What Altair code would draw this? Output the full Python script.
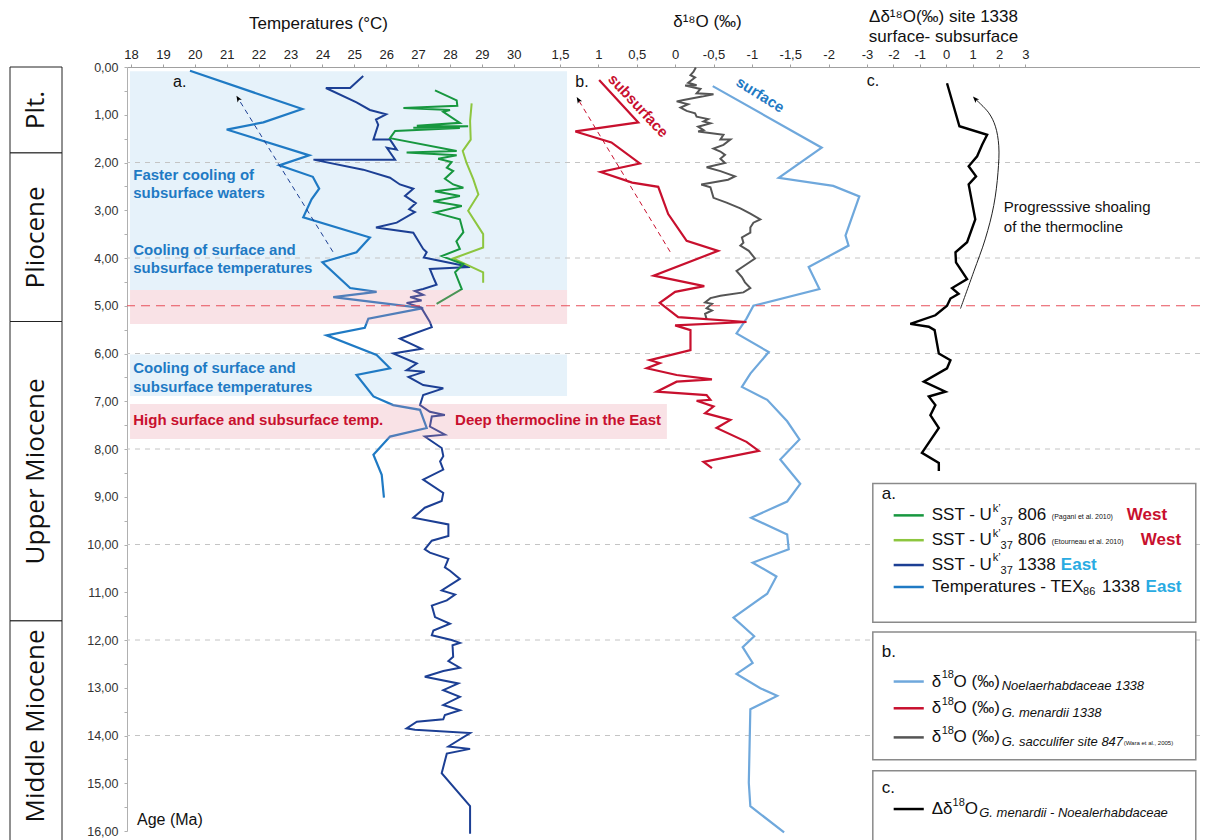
import altair as alt
import pandas as pd

# ---------------- data (age in Ma) ----------------
# Panel a : temperatures (degC)
tex86_1338 = [(0.08,19.85),(0.88,23.37),(1.16,22.15),(1.31,21.00),(1.85,23.59),(2.06,22.65),(2.30,23.70),
              (2.55,23.90),(2.77,23.66),(3.15,23.40),(3.57,25.49),(3.88,25.07),(4.09,24.00),(4.63,24.87),
              (4.71,25.70),(4.82,24.34),(5.05,27.16),(5.27,25.44),(5.46,25.33),(5.62,24.13),(6.03,25.70),
              (6.31,26.12),(6.45,25.07),(6.90,25.60),(7.08,26.22),(7.18,27.06),(7.56,27.27),(7.74,26.12),
              (8.12,25.60),(8.54,25.86),(9.02,25.93)]
uk37_1338 = [(0.19,25.28),(0.44,24.87),(0.44,24.11),(0.74,25.07),(0.90,25.49),(0.99,26.00),(1.10,25.68),
             (1.21,25.75),(1.52,25.60),(1.52,26.12),(1.73,26.33),(1.69,26.02),(1.94,26.28),(1.94,23.72),
             (2.15,25.28),(2.32,26.12),(2.46,26.43),(2.55,26.85),(2.70,26.59),(2.85,26.93),(2.98,26.72),
             (3.04,26.90),(3.26,26.33),(3.36,25.68),(3.47,26.85),(3.81,27.16),(3.88,27.27),(3.99,27.18),
             (4.19,28.63),(4.23,27.37),(4.44,27.50),(4.56,27.58),(4.65,27.16),(4.69,26.90),(4.77,27.16),
             (4.82,26.75),(4.89,27.11),(4.94,26.64),(5.04,27.10),(5.34,27.37),(5.45,27.43),(5.69,26.43),
             (5.90,27.11),(6.00,26.22),(6.21,26.96),(6.35,26.64),(6.38,27.21),(6.49,26.70),(6.66,27.16),
             (6.73,27.79),(6.87,27.16),(7.08,27.06),(7.22,27.37),(7.29,27.84),(7.32,27.43),(7.53,27.37),
             (7.70,27.84),(7.74,27.21),(7.98,27.74),(8.15,27.79),(8.26,27.69),(8.43,27.79),(8.64,27.16),
             (8.92,27.79),(9.09,27.74),(9.23,27.21),(9.44,26.85),(9.58,27.95),(9.82,27.95),(9.92,27.43),
             (10.10,27.21),(10.17,27.37),(10.30,27.95),(10.48,27.84),(10.55,28.00),(10.72,28.31),
             (10.96,27.74),(11.05,28.16),(11.17,27.90),(11.28,27.43),(11.52,27.53),(11.66,28.00),
             (11.80,27.48),(11.90,27.43),(12.00,28.05),(12.06,28.31),(12.11,28.08),(12.35,28.10),
             (12.44,27.95),(12.58,28.31),(12.65,27.79),(12.77,27.21),(12.91,28.26),(13.05,27.79),
             (13.19,28.31),(13.36,27.79),(13.47,28.31),(13.57,27.84),(13.66,27.79),(13.71,26.96),
             (13.85,26.64),(13.88,26.90),(13.95,28.63),(14.23,27.95),(14.28,28.63),(14.38,27.90),
             (14.79,27.74),(15.48,28.63),(16.06,28.63)]
uk37_806_pagani = [(0.49,27.53),(0.70,28.21),(0.81,28.23),(0.86,26.54),(0.90,28.00),(0.94,27.79),(1.17,28.31),
                   (1.23,26.96),(1.24,28.57),(1.27,26.85),(1.28,28.31),(1.34,26.28),(1.49,26.12),(1.76,28.21),
                   (1.79,26.64),(1.85,28.21),(1.92,27.63),(1.99,28.05),(2.11,27.90),(2.18,28.10),(2.34,27.84),
                   (2.46,28.10),(2.53,28.42),(2.60,27.53),(2.70,28.31),(2.81,27.48),(2.91,28.37),(3.05,27.53),
                   (3.19,28.31),(3.46,28.42),(3.65,28.20),(3.81,28.31),(3.96,27.74),(4.13,28.42),(4.30,28.16),
                   (4.65,28.37),(4.96,27.58)]
uk37_806_etourneau = [(0.76,28.68),(1.13,28.63),(1.52,28.65),(1.76,28.40),(2.01,28.52),(2.35,28.73),(2.67,28.89),
                      (3.01,28.57),(3.50,29.04),(3.78,29.04),(4.01,28.10),(4.30,29.04),(4.52,29.04)]

# Panel b : d18O (permil)
noelaerhabdaceae_1338 = [(0.40,-0.49),(1.69,-1.91),(2.32,-1.35),(2.49,-2.06),(2.71,-2.40),(3.53,-2.22),(3.74,-2.26),
                         (4.19,-1.74),(4.65,-1.88),(5.00,-1.02),(5.27,-0.93),(5.58,-0.80),(5.97,-1.22),(6.42,-0.98),
                         (6.70,-0.87),(6.97,-1.20),(7.42,-1.46),(7.80,-1.62),(8.22,-1.37),(8.73,-1.63),(9.10,-1.46),
                         (9.44,-0.99),(9.79,-1.46),(10.10,-1.48),(10.38,-1.01),(10.67,-1.32),(11.03,-1.20),
                         (11.53,-0.76),(11.92,-1.03),(12.15,-0.88),(12.48,-1.01),(12.71,-0.80),(13.01,-1.11),
                         (13.17,-1.33),(13.45,-0.98),(14.99,-0.96),(15.48,-0.98),(16.03,-1.42)]
menardii_1338 = [(0.27,0.99),(1.16,0.48),(1.35,1.30),(1.58,0.83),(2.02,0.46),(2.20,0.97),(2.42,0.56),(2.51,0.22),
                 (3.08,0.09),(3.64,-0.15),(3.85,-0.56),(4.37,0.28),(4.59,-0.38),(4.71,0.00),(4.94,0.20),(5.24,-0.04),
                 (5.34,-0.93),(5.41,0.00),(5.51,-0.20),(5.93,-0.20),(6.14,0.33),(6.20,0.20),(6.31,0.37),(6.45,-0.02),
                 (6.54,-0.48),(6.59,-0.02),(6.80,0.24),(6.87,-0.41),(6.97,-0.46),(6.99,-0.28),(7.11,-0.50),
                 (7.25,-0.39),(7.39,-0.72),(7.56,-0.54),(7.85,-0.93),(8.04,-1.09),(8.27,-0.37),(8.40,-0.48)]
sacculifer_847 = [(0.01,-0.27),(0.10,-0.24),(0.17,-0.20),(0.22,-0.26),(0.33,-0.17),(0.38,-0.28),(0.39,-0.13),
                  (0.46,-0.33),(0.55,-0.28),(0.57,-0.50),(0.62,-0.35),(0.69,-0.11),(0.72,-0.02),(0.78,-0.17),
                  (0.85,-0.07),(0.92,-0.15),(0.97,-0.26),(1.04,-0.28),(1.09,-0.43),(1.14,-0.37),(1.18,-0.46),
                  (1.25,-0.30),(1.32,-0.37),(1.35,-0.30),(1.42,-0.63),(1.52,-0.59),(1.52,-0.72),(1.63,-0.63),
                  (1.71,-0.50),(1.77,-0.59),(1.84,-0.65),(1.92,-0.59),(2.01,-0.65),(2.10,-0.41),(2.18,-0.59),
                  (2.29,-0.78),(2.36,-0.69),(2.46,-0.34),(2.52,-0.46),(2.63,-0.48),(2.74,-0.50),(2.84,-0.67),
                  (2.96,-0.85),(3.07,-0.98),(3.19,-1.11),(3.26,-1.02),(3.36,-0.98),(3.47,-0.98),(3.57,-0.87),
                  (3.68,-0.89),(3.74,-0.85),(3.85,-0.96),(4.01,-1.04),(4.13,-0.93),(4.27,-0.80),(4.40,-0.87),
                  (4.51,-0.91),(4.63,-0.98),(4.72,-0.89),(4.79,-0.59),(4.84,-0.46),(4.93,-0.39),(4.96,-0.48),
                  (5.05,-0.41),(5.10,-0.48),(5.17,-0.39),(5.28,-0.41)]

# Panel c : delta d18O surface - subsurface
delta_1338 = [(0.34,0.03),(1.24,0.50),(1.42,1.55),(1.63,1.36),(1.87,1.17),(2.08,0.85),(2.29,1.13),(2.46,0.85),
              (3.19,1.10),(3.67,0.79),(3.88,0.35),(4.09,0.37),(4.44,0.79),(4.63,0.22),(4.75,0.47),(4.85,0.16),
              (5.00,0.03),(5.20,-0.41),(5.38,-1.36),(5.44,-0.66),(5.51,-0.44),(6.00,-0.28),(6.14,0.16),(6.31,0.03),
              (6.59,-0.85),(6.80,-0.03),(6.90,-0.66),(7.08,-0.41),(7.29,-0.60),(7.56,-0.28),(8.08,-0.92),
              (8.29,-0.28),(8.46,-0.28)]

# Epochs (name, start age, end age)
epoch_names = ["Plt.", "Pliocene", "Upper Miocene", "Middle Miocene"]
epoch_start = [0.0, 1.8, 5.33, 11.6]
epoch_end = [1.8, 5.33, 11.6, 16.6]
epoch_label_age = [0.9, 3.57, 8.47, 13.8]

# Shaded intervals (age top, age bottom, T left, T right)
blue_bands = [(0.09, 4.67, 17.97, 31.67), (6.02, 6.89, 17.97, 31.67)]
pink_bands = [(4.67, 5.38, 17.97, 31.67), (7.06, 7.79, 17.97, 34.80)]
grid_ages = [2, 4, 6, 8, 10, 12, 14]
boundary_age = [5.0]

# Arrows (age, value)
arrow_a = [(3.87, 24.33), (0.66, 21.36)]
arrow_b = [(3.87, 0.065), (0.69, 1.26)]
arrow_c = [(5.06,0.54),(4.29,1.04),(3.60,1.48),(2.90,1.80),(2.21,1.96),(1.65,1.99),(1.24,1.86),(0.96,1.61),(0.67,1.10)]

# ---------------- styling ----------------
FONT = "Liberation Sans"
C_TEX = "#1f7ac4"
C_NAVY = "#1c3f94"
C_GREEN = "#17973f"
C_LGREEN = "#8dc63f"
C_LBLUE = "#6fa8dc"
C_RED = "#c8102e"
C_GRAY = "#555555"
C_EAST = "#29abe2"

W, H = 1073, 764
YS = alt.Scale(domain=[0, 16], reverse=True, nice=False, zero=False)
SA = alt.Scale(domain=[17.875, 31.449], range=[0, 433], nice=False, zero=False)
SB = alt.Scale(domain=[1.5, -2.5], range=[433, 740], nice=False, zero=False)
SC = alt.Scale(domain=[-3.0, 9.61], range=[740, 1073], nice=False, zero=False)
SE = alt.Scale(domain=[0, 1], range=[-117, -65], nice=False, zero=False)

AX_COMMON = dict(orient="top", grid=False, domainColor="#a0a0a0", tickColor="#a0a0a0", tickSize=3,
                 labelFont=FONT, labelFontSize=13, labelColor="#222", labelPadding=3,
                 labelFlush=False, labelOverlap=False, labelBound=False,
                 titleFont=FONT, titleFontSize=17, titleFontWeight="normal", titleColor="#111",
                 titleAlign="center", titleBaseline="middle")
LBL = "replace(toString(datum.value), '.', ',')"

axis_a = alt.Axis(values=list(range(18, 31)), labelExpr=LBL, title="Temperatures (°C)",
                  titleX=191, titleY=-44, **AX_COMMON)
axis_b = alt.Axis(values=[1.5, 1, 0.5, 0, -0.5, -1, -1.5, -2], labelExpr=LBL, title="δ¹⁸O (‰)",
                  titleX=580, titleY=-46, **AX_COMMON)
axc = dict(AX_COMMON)
axc["titleBaseline"] = "top"
axis_c = alt.Axis(values=[-3, -2, -1, 0, 1, 2, 3], labelExpr=LBL,
                  title=["Δδ¹⁸O(‰) site 1338", "surface- subsurface"], titleLineHeight=20,
                  titleX=816, titleY=-59, **axc)


def pairs_df(pairs):
    df = pd.DataFrame(pairs, columns=["age", "v"])
    df["i"] = range(len(df))
    return df


def series(pairs, scale, color, width=2.0, axis=None, dash=None, interp="linear", opacity=1.0):
    kw = dict(color=color, strokeWidth=width, interpolate=interp, opacity=opacity)
    if dash:
        kw["strokeDash"] = dash
    return alt.Chart(pairs_df(pairs)).mark_line(**kw).encode(
        x=alt.X("v:Q", scale=scale, axis=axis),
        y=alt.Y("age:Q", scale=YS, axis=None),
        order=alt.Order("i:Q"),
    )


def bands(rows, color, opacity):
    df = pd.DataFrame(rows, columns=["a0", "a1", "t0", "t1"])
    return alt.Chart(df).mark_rect(color=color, opacity=opacity).encode(
        x=alt.X("t0:Q", scale=SA, axis=None), x2="t1:Q",
        y=alt.Y("a0:Q", scale=YS, axis=None), y2="a1:Q")


def texts(rows, scale, weight="normal", style="normal", align="left", font=FONT):
    df = pd.DataFrame(rows, columns=["txt", "xv", "age", "size", "color", "angle"])
    return alt.Chart(df).mark_text(align=align, baseline="middle", font=font,
                                   fontWeight=weight, fontStyle=style).encode(
        x=alt.X("xv:Q", scale=scale, axis=None),
        y=alt.Y("age:Q", scale=YS, axis=None),
        text="txt:N",
        size=alt.Size("size:Q", scale=None, legend=None),
        color=alt.Color("color:N", scale=None, legend=None),
        angle=alt.Angle("angle:Q", scale=None),
    )


def arrowhead(age, v, scale, angle, color="black"):
    df = pd.DataFrame({"age": [age], "v": [v], "ang": [angle]})
    return alt.Chart(df).mark_point(shape="M0,-1L0.75,0.9L0,0.45L-0.75,0.9Z", filled=True,
                                    color=color, opacity=1, size=45).encode(
        x=alt.X("v:Q", scale=scale, axis=None),
        y=alt.Y("age:Q", scale=YS, axis=None),
        angle=alt.Angle("ang:Q", scale=None))


layers = []

# background bands
layers.append(bands(blue_bands, "#e6f2fa", 1.0))

# gray dashed grid + labelled age axis
grid_df = pd.DataFrame({"age": grid_ages})
layers.append(alt.Chart(grid_df).mark_rule(color="#c4c4c4", strokeDash=[5, 5], strokeWidth=1).encode(
    y=alt.Y("age:Q", scale=YS, axis=alt.Axis(
        orient="left", values=list(range(0, 17)), grid=False, title=None,
        labelExpr="replace(format(datum.value, '.2f'), '.', ',')",
        labelFont=FONT, labelFontSize=12.5, labelColor="#333", labelPadding=6,
        domainColor="#b0b0b0", tickColor="#b0b0b0", tickSize=3, labelFlush=False, labelOverlap=False))))

# epoch column
ep_df = pd.DataFrame({"name": epoch_names, "a0": epoch_start, "a1": epoch_end, "mid": epoch_label_age})
ep_df["x0"] = 0.0
ep_df["x1"] = 1.0
ep_df["xm"] = 0.5
layers.append(alt.Chart(ep_df).mark_rect(fill="white", stroke="#222", strokeWidth=1).encode(
    x=alt.X("x0:Q", scale=SE, axis=None), x2="x1:Q",
    y=alt.Y("a0:Q", scale=YS, axis=None), y2="a1:Q"))
layers.append(alt.Chart(ep_df).mark_text(font="Open Sans", fontSize=26, angle=270, color="#111",
                                         align="center", baseline="middle").encode(
    x=alt.X("xm:Q", scale=SE, axis=None), y=alt.Y("mid:Q", scale=YS, axis=None), text="name:N"))

# panel a
layers.append(series(tex86_1338, SA, C_TEX, 2.2, axis=axis_a))
layers.append(series(uk37_1338, SA, C_NAVY, 2.0))
layers.append(series(uk37_806_etourneau, SA, C_LGREEN, 2.0))
layers.append(series(uk37_806_pagani, SA, C_GREEN, 2.0))
# panel b
layers.append(series(noelaerhabdaceae_1338, SB, C_LBLUE, 2.2, axis=axis_b))
layers.append(series(sacculifer_847, SB, C_GRAY, 2.0))
layers.append(series(menardii_1338, SB, C_RED, 2.2))
# panel c
layers.append(series(delta_1338, SC, "black", 2.4, axis=axis_c))

# pink bands drawn over the curves (semi transparent)
layers.append(bands(pink_bands, "#e78a9a", 0.25))

# red dashed boundary at 5 Ma + minor age ticks
bd_df = pd.DataFrame({"age": boundary_age})
layers.append(alt.Chart(bd_df).mark_rule(color="#e8505b", strokeDash=[9, 6], strokeWidth=1.2).encode(
    y=alt.Y("age:Q", scale=YS, axis=alt.Axis(
        orient="left", values=[k + 0.5 for k in range(16)], labels=False, grid=False, title=None,
        domain=False, tickColor="#b0b0b0", tickSize=3))))

# arrows
layers.append(series(arrow_a, SA, C_NAVY, 1.0, dash=[5, 4]))
layers.append(arrowhead(0.66, 21.36, SA, 329))
layers.append(series(arrow_b, SB, C_RED, 1.0, dash=[5, 4]))
layers.append(arrowhead(0.69, 1.26, SB, 329))
layers.append(series(arrow_c, SC, "#222", 1.0, interp="catmull-rom"))
layers.append(arrowhead(0.67, 1.10, SC, 316))

# annotations panel a
layers.append(texts([
    ("Faster cooling of", 18.07, 2.26, 15, C_TEX, 0),
    ("subsurface waters", 18.07, 2.64, 15, C_TEX, 0),
    ("Cooling of surface and", 18.07, 3.83, 15, C_TEX, 0),
    ("subsurface temperatures", 18.07, 4.21, 15, C_TEX, 0),
    ("Cooling of surface and", 18.07, 6.31, 15, C_TEX, 0),
    ("subsurface temperatures", 18.07, 6.70, 15, C_TEX, 0),
    ("High surface and subsurface temp.", 18.07, 7.40, 15, C_RED, 0),
    ("Deep thermocline in the East", 28.16, 7.40, 15, C_RED, 0),
], SA, weight="bold"))
layers.append(texts([
    ("a.", 19.32, 0.31, 16, "#111", 0),
    ("Age (Ma)", 18.19, 15.78, 16, "#111", 0),
], SA))
# annotations panel b
layers.append(texts([("b.", 1.30, 0.31, 16, "#111", 0)], SB))
layers.append(texts([
    ("subsurface", 0.48, 0.81, 15, C_RED, 47),
    ("surface", -1.11, 0.58, 15, C_TEX, 32),
], SB, weight="bold", align="center"))
# annotations panel c
layers.append(texts([
    ("c.", -3.01, 0.30, 16, "#111", 0),
    ("Progresssive shoaling", 2.18, 2.93, 15, "#111", 0),
    ("of the thermocline", 2.18, 3.35, 15, "#111", 0),
], SC))

# legend boxes
box_df = pd.DataFrame({"x0": [-2.78] * 3, "x1": [9.45] * 3,
                       "a0": [8.72, 11.83, 14.74], "a1": [11.63, 14.51, 16.6]})
layers.append(alt.Chart(box_df).mark_rect(fill="white", stroke="#8a8a8a", strokeWidth=1.5).encode(
    x=alt.X("x0:Q", scale=SC, axis=None), x2="x1:Q",
    y=alt.Y("a0:Q", scale=YS, axis=None), y2="a1:Q"))

# legend swatches
sw_df = pd.DataFrame({"age": [9.39, 9.91, 10.43, 10.89, 12.87, 13.43, 14.04, 15.54],
                      "col": [C_GREEN, C_LGREEN, C_NAVY, C_TEX, C_LBLUE, C_RED, C_GRAY, "black"],
                      "x0": [-1.99] * 8, "x1": [-0.85] * 8})
layers.append(alt.Chart(sw_df).mark_rule(strokeWidth=2.5).encode(
    x=alt.X("x0:Q", scale=SC, axis=None), x2="x1:Q",
    y=alt.Y("age:Q", scale=YS, axis=None),
    color=alt.Color("col:N", scale=None, legend=None)))

K = "#111"
legend_plain = [
    ("a.", -2.44, 8.95, 17, K, 0),
    ("SST - U", -0.55, 9.39, 17, K, 0), ("k’", 1.76, 9.25, 11, K, 0), ("37", 2.06, 9.52, 11, K, 0),
    ("806", 2.71, 9.39, 17, K, 0), ("(Pagani et al. 2010)", 4.00, 9.42, 7, K, 0),
    ("SST - U", -0.55, 9.91, 17, K, 0), ("k’", 1.76, 9.77, 11, K, 0), ("37", 2.06, 10.04, 11, K, 0),
    ("806", 2.71, 9.91, 17, K, 0), ("(Etourneau et al. 2010)", 4.00, 9.94, 7, K, 0),
    ("SST - U", -0.55, 10.43, 17, K, 0), ("k’", 1.76, 10.29, 11, K, 0), ("37", 2.06, 10.56, 11, K, 0),
    ("1338", 2.71, 10.43, 17, K, 0),
    ("Temperatures - TEX", -0.55, 10.89, 17, K, 0), ("86", 5.18, 11.00, 11, K, 0),
    ("1338", 5.90, 10.89, 17, K, 0),
    ("b.", -2.44, 12.26, 17, K, 0),
    ("δ", -0.55, 12.87, 17, K, 0), ("18", -0.17, 12.74, 11, K, 0), ("O (‰)", 0.28, 12.87, 17, K, 0),
    ("δ", -0.55, 13.43, 17, K, 0), ("18", -0.17, 13.30, 11, K, 0), ("O (‰)", 0.28, 13.43, 17, K, 0),
    ("δ", -0.55, 14.04, 17, K, 0), ("18", -0.17, 13.91, 11, K, 0), ("O (‰)", 0.28, 14.04, 17, K, 0),
    ("(Wara et al., 2005)", 6.72, 14.16, 6, K, 0),
    ("c.", -2.44, 15.10, 17, K, 0),
    ("Δδ", -0.55, 15.54, 17, K, 0), ("18", 0.24, 15.41, 11, K, 0), ("O", 0.70, 15.54, 17, K, 0),
]
legend_bold = [
    ("West", 6.84, 9.39, 17, C_RED, 0),
    ("West", 7.37, 9.91, 17, C_RED, 0),
    ("East", 4.34, 10.43, 17, C_EAST, 0),
    ("East", 7.55, 10.89, 17, C_EAST, 0),
]
legend_italic = [
    ("Noelaerhabdaceae 1338", 2.10, 12.96, 13, K, 0),
    ("G. menardii 1338", 2.10, 13.52, 13, K, 0),
    ("G. sacculifer site 847", 2.10, 14.13, 13, K, 0),
    ("G. menardii - Noealerhabdaceae", 1.25, 15.63, 13, K, 0),
]
layers.append(texts(legend_plain, SC))
layers.append(texts(legend_bold, SC, weight="bold"))
layers.append(texts(legend_italic, SC, style="italic"))

chart = alt.layer(*layers).properties(
    width=W, height=H,
    padding={"left": 119, "top": 59, "right": 0, "bottom": 9},
    autosize=alt.AutoSizeParams(type="none"),
).resolve_scale(
    x="independent", y="shared", color="independent", size="independent", angle="independent"
).resolve_axis(x="independent", y="independent").configure_view(stroke=None)

chart.save("out.html", embed_options={"renderer": "svg", "actions": False})
